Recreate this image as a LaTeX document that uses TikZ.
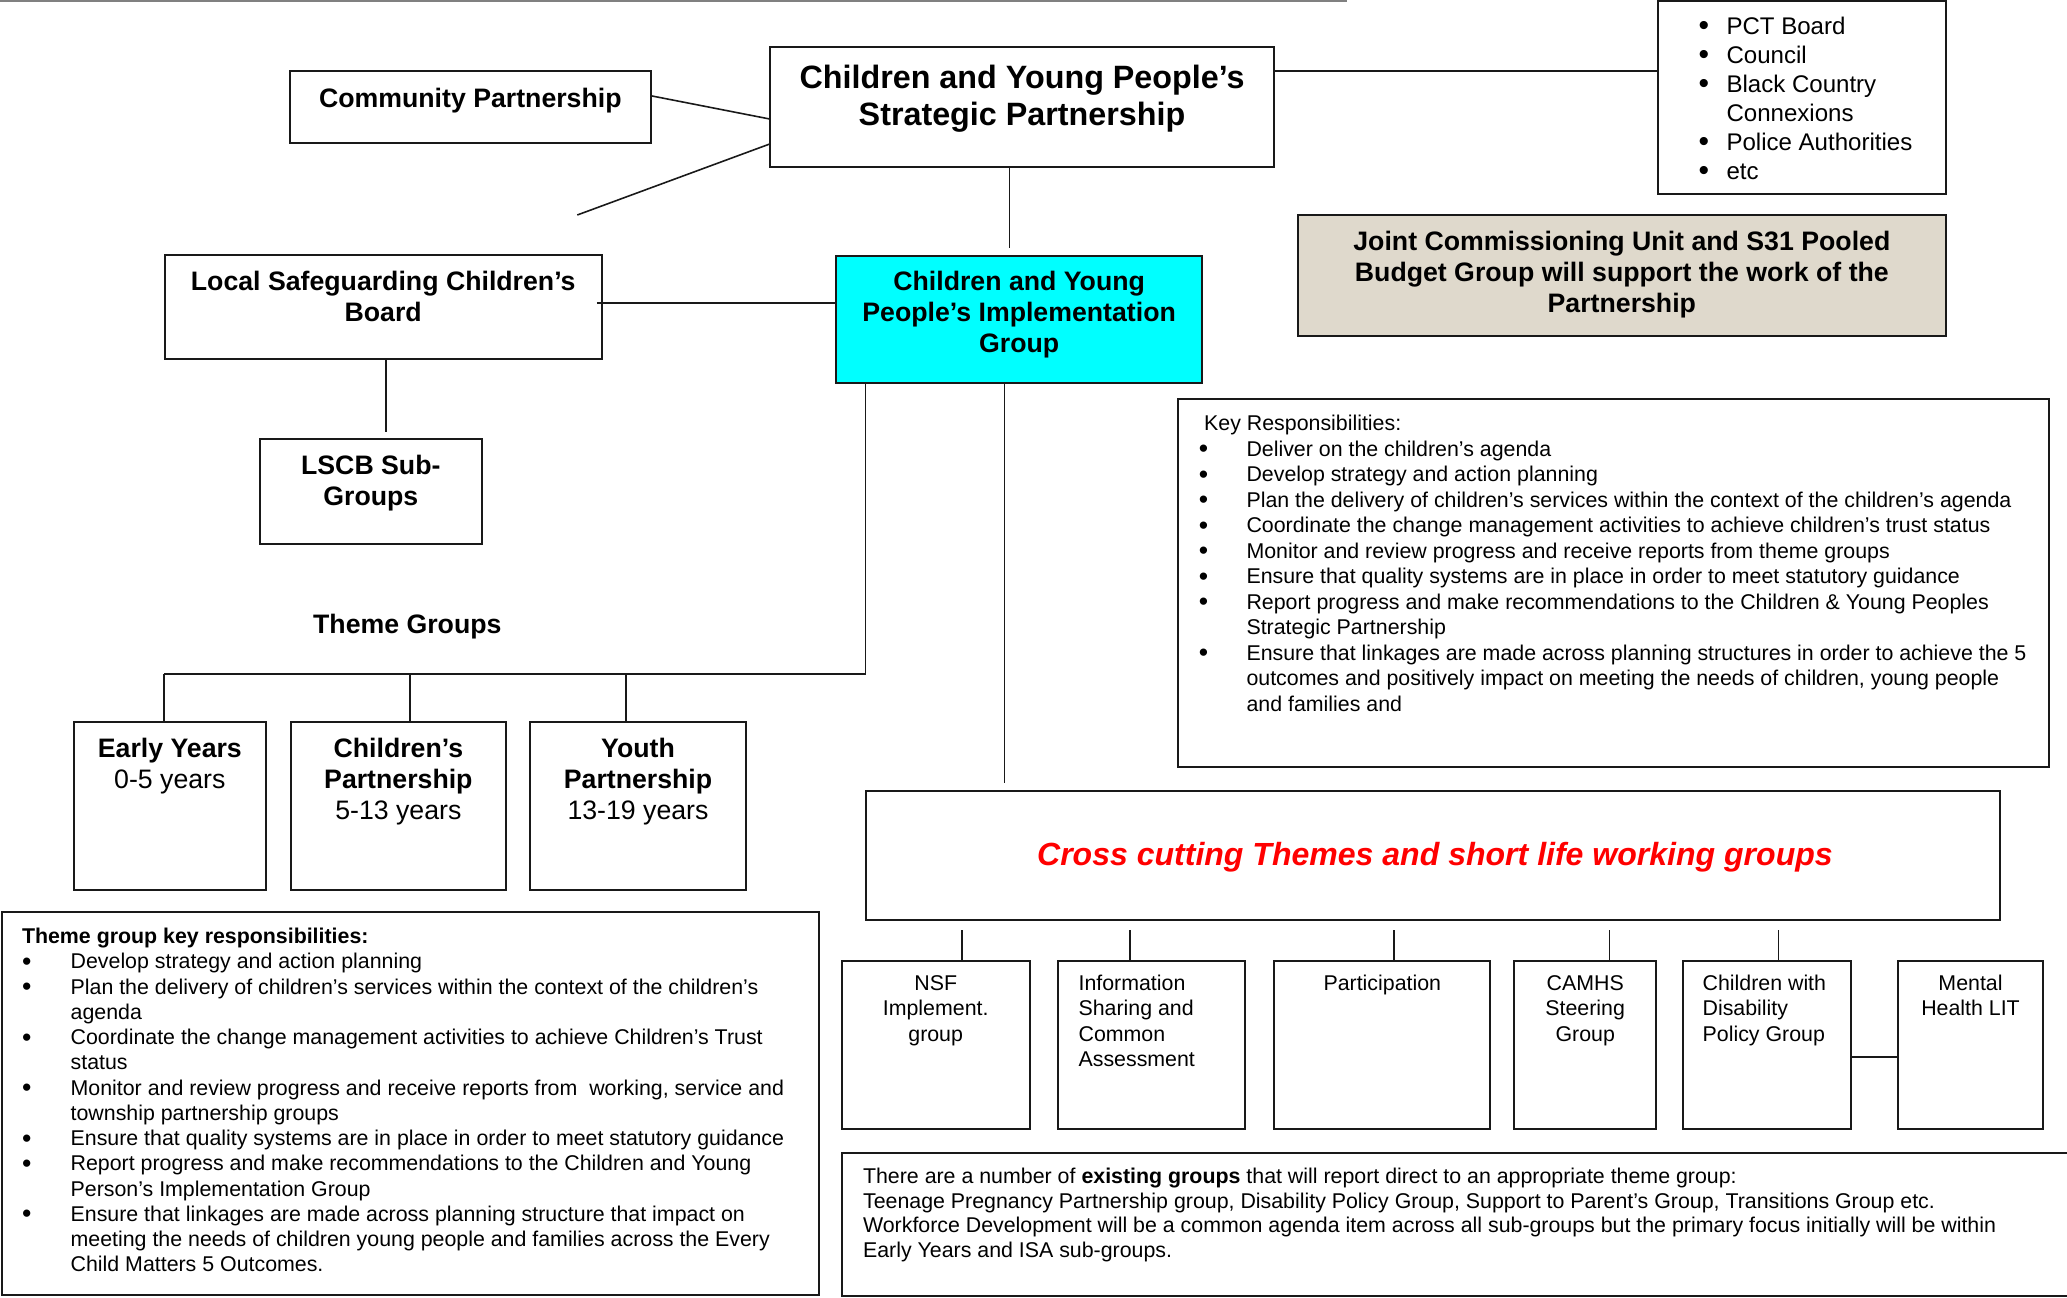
\documentclass[tikz,border=0pt]{standalone}
\usepackage{fontspec}
\usepackage{graphicx}
\setmainfont{Liberation Sans}
\definecolor{jcu}{RGB}{223,217,204}
\definecolor{aqua}{RGB}{0,255,255}
\definecolor{lineg}{RGB}{25,25,25}
\newcommand{\fsz}[2]{\fontsize{#1}{#2}\selectfont}
\newcommand{\ctext}[1]{\begin{tabular}[t]{@{}c@{}}#1\end{tabular}}
\newcommand{\ltext}[1]{\begin{tabular}[t]{@{}l@{}}#1\end{tabular}}
\newcommand{\bul}[1]{\makebox[#1][l]{\raisebox{-0.07em}{\scalebox{1.25}{\textbullet}}}}
\begin{document}
\begin{tikzpicture}[x=1pt,y=-1pt,
  box/.style={draw=lineg, line width=1.5pt, inner sep=0pt, outer sep=0pt, anchor=north west},
  conn/.style={draw=lineg, line width=1.2pt},
  txt/.style={inner sep=0pt, outer sep=0pt, anchor=base},
  ltxt/.style={inner sep=0pt, outer sep=0pt, anchor=base west},
  big/.style={font=\fsz{24.5}{28}\bfseries},
  mid/.style={font=\fsz{20.25}{23.5}\bfseries},
  body/.style={font=\fsz{16.2}{19.2}}]
\useasboundingbox (0,0) rectangle (1568,984);
\fill[white] (0,0) rectangle (1568,984);
\draw[gray, line width=1.5pt] (0,0.8) -- (1022,0.8);

% boxes
\node[box, minimum width=273.5, minimum height=54.7] (cp) at (220,54) {};
\node[box, minimum width=382.5, minimum height=91.3] (cy) at (584,35.7) {};
\node[box, minimum width=218.4, minimum height=146.7] (pl) at (1257.6,0.7) {};
\node[box, fill=jcu, minimum width=491.3, minimum height=91.6] (jc) at (984.7,163.1) {};
\node[box, minimum width=331.9, minimum height=79.1] (ls) at (124.8,193.5) {};
\node[box, fill=aqua, minimum width=277.6, minimum height=96.6] (ig) at (634.3,194.2) {};
\node[box, minimum width=168.5, minimum height=79.4] (sub) at (197.3,333) {};
\node[box, minimum width=145.5, minimum height=127.7] (ey) at (56.1,547.5) {};
\node[box, minimum width=163.7, minimum height=127.7] (cpt) at (220.4,547.5) {};
\node[box, minimum width=164.1, minimum height=127.7] (yp) at (402,547.5) {};
\node[box, minimum width=660.5, minimum height=279.3] (kr) at (893.7,302.7) {};
\node[box, minimum width=860.6, minimum height=97.4] (cc) at (656.6,600.2) {};
\node[box, minimum width=142.4, minimum height=127.7] (nsf) at (638.6,728.8) {};
\node[box, minimum width=141.9, minimum height=127.7] (info) at (802.7,728.8) {};
\node[box, minimum width=164, minimum height=127.7] (part) at (966.6,728.8) {};
\node[box, minimum width=107.9, minimum height=127.7] (camhs) at (1148.6,728.8) {};
\node[box, minimum width=127.2, minimum height=127.7] (cwd) at (1276.8,728.8) {};
\node[box, minimum width=109.6, minimum height=127.7] (mh) at (1440,728.8) {};
\node[box, minimum width=619.8, minimum height=290.8] (tg) at (1.2,691.6) {};
\node[box, minimum width=940, minimum height=108.6] (eg) at (638.6,874.4) {};

% texts
\node[txt, mid] (tcp) at (356.8,81.5) {Community Partnership};
\node[txt, big] (tcy) at (775.3,67.3) {\ctext{Children and Young People’s\\Strategic Partnership}};
\node[ltxt, font=\fsz{18.25}{22}] (tpl) at (1288.5,25.8) {\begin{tabular}[t]{@{}l@{}l@{}}
\bul{21.2pt}&PCT Board\\
\bul{21.2pt}&Council\\
\bul{21.2pt}&Black Country\\
&Connexions\\
\bul{21.2pt}&Police Authorities\\
\bul{21.2pt}&etc\end{tabular}};
\node[txt, font=\fsz{20.25}{23.6}\bfseries] (tjc) at (1230.3,190) {\ctext{Joint Commissioning Unit and S31 Pooled\\Budget Group will support the work of the\\Partnership}};
\node[txt, mid] (tls) at (290.7,220.5) {\ctext{Local Safeguarding Children’s\\Board}};
\node[txt, mid] (tig) at (773.1,220.5) {\ctext{Children and Young\\People’s Implementation\\Group}};
\node[txt, mid] (tsub) at (281.3,360.2) {\ctext{LSCB Sub-\\Groups}};
\node[txt, mid] (tth) at (309,480.6) {Theme Groups};
\node[txt, mid] (tey) at (128.85,575) {\ctext{Early Years\\\mdseries 0-5 years}};
\node[txt, mid] (tcpt) at (302.2,575) {\ctext{Children’s\\Partnership\\\mdseries 5-13 years}};
\node[txt, mid] (typ) at (484,575) {\ctext{Youth\\Partnership\\\mdseries 13-19 years}};

\node[ltxt, font=\fsz{16.2}{19.35}] (tkr) at (909.5,326.8) {\begin{tabular}[t]{@{}l@{}l@{}}
\multicolumn{2}{@{}l@{}}{\hspace{4pt}Key Responsibilities:}\\
\bul{36.1pt}&Deliver on the children’s agenda\\
\bul{36.1pt}&Develop strategy and action planning\\
\bul{36.1pt}&Plan the delivery of children’s services within the context of the children’s agenda\\
\bul{36.1pt}&Coordinate the change management activities to achieve children’s trust status\\
\bul{36.1pt}&Monitor and review progress and receive reports from theme groups\\
\bul{36.1pt}&Ensure that quality systems are in place in order to meet statutory guidance\\
\bul{36.1pt}&Report progress and make recommendations to the Children \& Young Peoples\\
&Strategic Partnership\\
\bul{36.1pt}&Ensure that linkages are made across planning structures in order to achieve the 5\\
&outcomes and positively impact on meeting the needs of children, young people\\
&and families and\end{tabular}};

\node[txt, font=\fsz{24.3}{28}\bfseries\itshape, text=red] (tcc) at (1088.5,656.7) {Cross cutting Themes and short life working groups};

\node[txt, body] (tnsf) at (709.8,751.5) {\ctext{NSF\\Implement.\\group}};
\node[ltxt, body] (tinfo) at (818.2,751.5) {\ltext{Information\\Sharing and\\Common\\Assessment}};
\node[txt, body] (tpart) at (1048.6,751.5) {Participation};
\node[txt, body] (tcamhs) at (1202.5,751.5) {\ctext{CAMHS\\Steering\\Group}};
\node[ltxt, body] (tcwd) at (1291.6,751.5) {\ltext{Children with\\Disability\\Policy Group}};
\node[txt, body] (tmh) at (1494.8,751.5) {\ctext{Mental\\Health LIT}};

\node[ltxt, font=\fsz{16.2}{19.15}] (ttg) at (16.7,715.8) {\begin{tabular}[t]{@{}l@{}l@{}}
\multicolumn{2}{@{}l@{}}{\bfseries Theme group key responsibilities:}\\
\bul{36.9pt}&Develop strategy and action planning\\
\bul{36.9pt}&Plan the delivery of children’s services within the context of the children’s\\
&agenda\\
\bul{36.9pt}&Coordinate the change management activities to achieve Children’s Trust\\
&status\\
\bul{36.9pt}&Monitor and review progress and receive reports from \ working, service and\\
&township partnership groups\\
\bul{36.9pt}&Ensure that quality systems are in place in order to meet statutory guidance\\
\bul{36.9pt}&Report progress and make recommendations to the Children and Young\\
&Person’s Implementation Group\\
\bul{36.9pt}&Ensure that linkages are made across planning structure that impact on\\
&meeting the needs of children young people and families across the Every\\
&Child Matters 5 Outcomes.\end{tabular}};

\node[ltxt, font=\fsz{16.2}{18.65}] (teg) at (654.7,897.8) {\ltext{There are a number of \textbf{existing groups} that will report direct to an appropriate theme group:\\
Teenage Pregnancy Partnership group, Disability Policy Group, Support to Parent’s Group, Transitions Group etc.\\
Workforce Development will be a common agenda item across all sub-groups but the primary focus initially will be within\\
Early Years and ISA sub-groups.}};

% connectors
\coordinate (cpend) at (437.9,163.1);
\coordinate (barL) at (124.6,511.3);
\draw[conn] ([yshift=8.75pt]cp.east) -- ([yshift=-8.95pt]cy.west);
\draw[conn] ([yshift=-27.85pt]cy.west) -- (cpend);
\draw[conn] ([yshift=27.45pt]cy.east) -- ([yshift=27.45pt]cy.east -| pl.west);
\draw[conn, shorten >=6pt] ([xshift=-9.45pt]cy.south) -- ([xshift=-9.45pt]cy.south |- ig.north);
\draw[conn] ([xshift=-4pt,yshift=3.15pt]ls.east) -- ([yshift=3.15pt]ls.east -| ig.west);
\draw[conn, shorten >=5.5pt] ([xshift=1.95pt]ls.south) -- ([xshift=1.95pt]ls.south |- sub.north);
\draw[conn] ([xshift=22.3pt]ig.south west) |- (barL);
\draw[conn] ([xshift=-4.25pt]ey.north) -- ([xshift=-4.25pt]ey.north |- barL);
\draw[conn] ([xshift=8.75pt]cpt.north) -- ([xshift=8.75pt]cpt.north |- barL);
\draw[conn] ([xshift=-9.35pt]yp.north) -- ([xshift=-9.35pt]yp.north |- barL);
\draw[conn, shorten >=6pt] ([xshift=-11.2pt]ig.south) -- ([xshift=-11.2pt]ig.south |- cc.north);
\draw[conn, shorten <=8pt] ([xshift=19.8pt]nsf.north |- cc.south) -- ([xshift=19.8pt]nsf.north);
\draw[conn, shorten <=8pt] ([xshift=-16.6pt]info.north |- cc.south) -- ([xshift=-16.6pt]info.north);
\draw[conn, shorten <=8pt] ([xshift=8.9pt]part.north |- cc.south) -- ([xshift=8.9pt]part.north);
\draw[conn, shorten <=8pt] ([xshift=18.3pt]camhs.north |- cc.south) -- ([xshift=18.3pt]camhs.north);
\draw[conn, shorten <=8pt] ([xshift=8.7pt]cwd.north |- cc.south) -- ([xshift=8.7pt]cwd.north);
\draw[conn, line width=1.8pt] ([yshift=-9.35pt]cwd.east) -- ([yshift=-9.35pt]cwd.east -| mh.west);
\end{tikzpicture}
\end{document}
